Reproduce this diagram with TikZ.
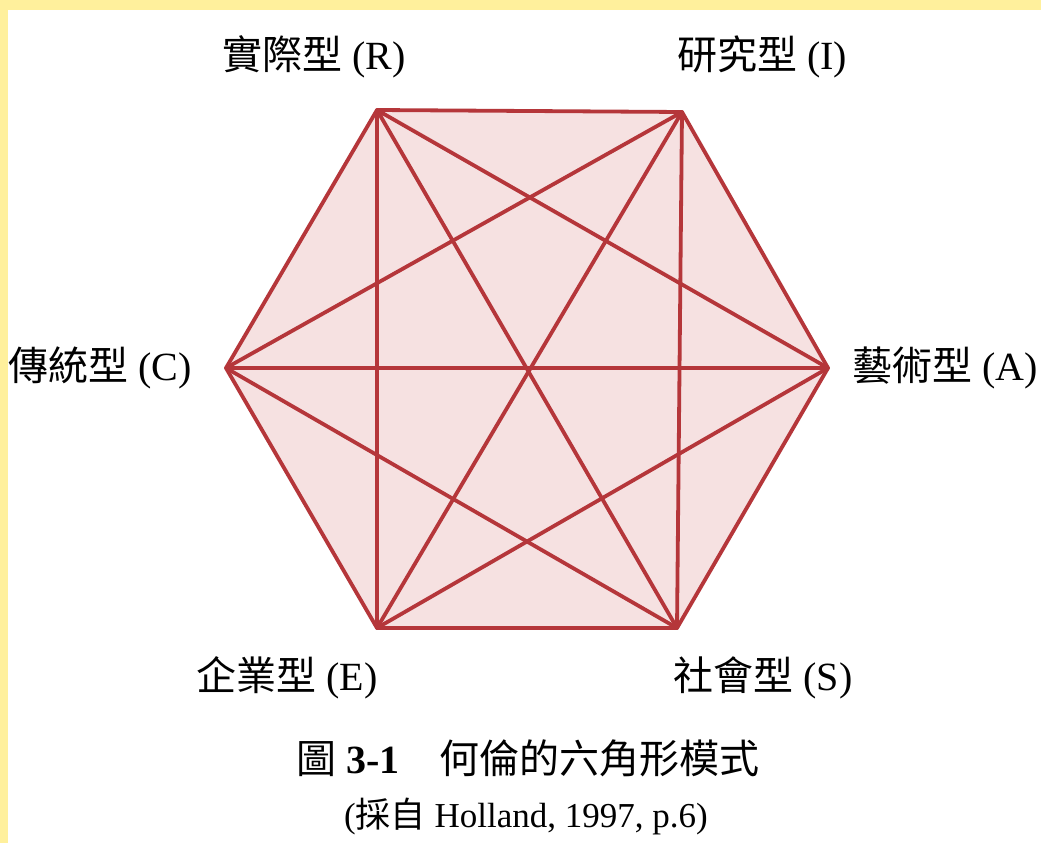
\documentclass[tikz,border=0pt]{standalone}
\usepackage{fontspec}
\setmainfont{Liberation Serif}
\newfontfamily\cjk{Noto Sans CJK TC}
\definecolor{frameyellow}{HTML}{FFF09C}
\definecolor{hexline}{HTML}{B5363A}
\definecolor{hexfill}{HTML}{F6E1E1}
\begin{document}
\begin{tikzpicture}[x=1pt,y=-1pt,
  edge/.style={draw=hexline,line width=3.8pt,line cap=round,line join=round},
  lab/.style={anchor=base,inner sep=0pt,font=\fontsize{40}{48}\selectfont},
  srctext/.style={anchor=base,inner sep=0pt,font=\fontsize{35}{42}\selectfont}]
\useasboundingbox (0,0) rectangle (1041,843);
\fill[white] (0,0) rectangle (1041,843);
\fill[frameyellow] (0,0) rectangle (1041,10);
\fill[frameyellow] (0,0) rectangle (8,843);
% vertices
\coordinate (R) at (377,110);
\coordinate (I) at (682,112);
\coordinate (A) at (828,368);
\coordinate (S) at (677,628);
\coordinate (E) at (377,628);
\coordinate (C) at (226,368);
\fill[hexfill] (R) -- (I) -- (A) -- (S) -- (E) -- (C) -- cycle;
\draw[edge] (R) -- (I) -- (A) -- (S) -- (E) -- (C) -- cycle;
\draw[edge] (R) -- (A) (R) -- (S) (R) -- (E);
\draw[edge] (I) -- (S) (I) -- (E) (I) -- (C);
\draw[edge] (C) -- (A) (C) -- (S);
\draw[edge] (E) -- (A);
% labels
\node[lab] (lR) at (314,70) {{\cjk 實際型} (R)};
\node[lab] (lI) at (762,70) {{\cjk 研究型} (I)};
\node[lab] (lC) at (100,380) {{\cjk 傳統型} (C)};
\node[lab] (lA) at (945,380) {{\cjk 藝術型} (A)};
\node[lab] (lE) at (287,690) {{\cjk 企業型} (E)};
\node[lab] (lS) at (763,690) {{\cjk 社會型} (S)};
\node[lab] (title) at (528,773) {{\cjk 圖} \textbf{3-1}{\cjk 　何倫的六角形模式}};
\node[srctext] (src) at (526,827) {({\cjk 採自} Holland, 1997, p.6)};
\end{tikzpicture}
\end{document}
